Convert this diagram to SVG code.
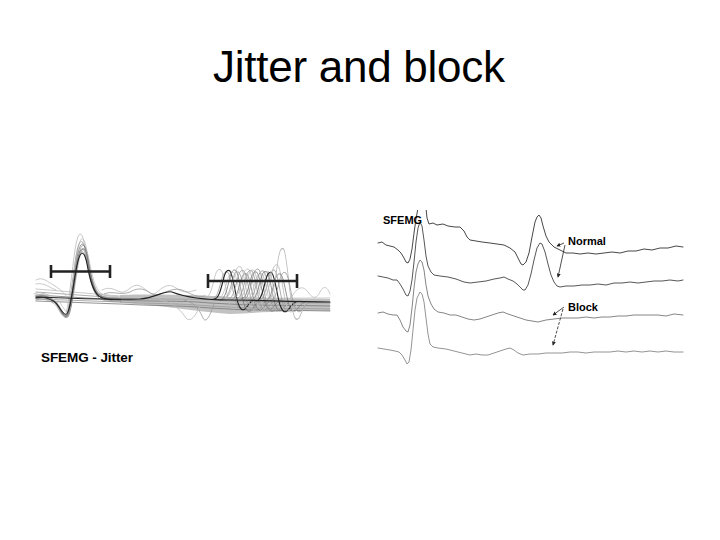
<svg xmlns="http://www.w3.org/2000/svg" xmlns:xlink="http://www.w3.org/1999/xlink" width="720" height="540" viewBox="0 0 720 540">
<style>
.t{font-family:"Liberation Sans",Arial,sans-serif;fill:#000}
.b{font-weight:bold}
.tr{fill:none;stroke-linejoin:round;stroke-linecap:round}
.g1{stroke:#999;stroke-width:0.8}
.g2{stroke:#777;stroke-width:0.8}
.g3{stroke:#bbb;stroke-width:0.8}
.dk{stroke:#222;stroke-width:1.1}
.bar{stroke:#222;stroke-width:2.6;fill:none}
.ar{stroke:#222;stroke-width:0.8;fill:none}
</style>
<defs>
<path id="fp" d="M0,0 C6,-3 12,0 18,4 C23,8 26,20 30,20 C34,20 37,-15 41,-40 C44,-58 48,-60 51,-42 C54,-22 57,-8 63,-2 C69,2 75,2 84,2"/>
<path id="wv" d="M0,0 C4,0 6,-6 9,-18 C11,-27 13,-30 16,-28 C19,-24 21,-6 24,4 C26,10 28,12 31,10 C34,7 36,2 40,1"/>
<marker id="ah" viewBox="0 0 6 6" refX="5" refY="3" markerWidth="5" markerHeight="5" orient="auto">
<path d="M0,0 L6,3 L0,6 Z" fill="#222"/>
</marker>
<clipPath id="rc"><rect x="375" y="210" width="315" height="160"/></clipPath>
</defs>
<rect width="720" height="540" fill="#fff"/>
<text class="t" x="213" y="82" font-size="44" textLength="292">Jitter and block</text>

<g id="jitter-panel">
<g id="band">
<path d="M120,295 C160,294 200,295 230,297 C270,298 300,299 330,299 L330,311 C300,310 270,312 230,314 C200,312 160,305 120,303 Z" fill="#999" opacity="0.6"/>
<path class="tr g1" d="M36,292 L120,298 C150,300 180,298 210,300 C250,302 290,303 330,303"/>
<path class="tr g2" d="M36,295 L120,300 C150,302 180,300 210,303 C250,306 290,305 330,306"/>
<path class="tr g3" d="M36,289 L120,296 C150,297 180,295 210,297 C250,299 290,298 330,298"/>
<path class="tr g1" d="M36,299 L120,302 C150,304 180,303 210,306 C250,309 290,308 330,309"/>
<path class="tr g2" d="M36,301 L120,304 C150,306 180,305 210,308 C250,311 290,310 330,311"/>
<path class="tr g3" d="M36,280 C42,276 48,282 55,286 C62,290 66,296 70,300"/>
<path class="tr g3" d="M36,284 C44,282 50,288 56,290"/>
<path class="tr g3" d="M102,290 C110,286 115,290 120,292 C128,294 132,282 140,286 C148,290 150,296 156,293 C162,288 168,282 176,288 C184,294 190,292 196,290"/>
<path class="tr g1" d="M104,294 C112,290 120,296 130,292 C140,286 146,290 152,294 C160,298 170,286 182,290 C190,293 196,298 205,296"/>
<path class="tr g3" d="M290,300 C296,288 302,284 308,292 C312,298 316,300 320,292 C324,284 328,288 330,294"/>
<path class="tr g1" d="M184,300 C192,302 198,306 203,318 C206,324 210,316 214,304"/>
<path class="tr g3" d="M160,300 C170,302 178,306 186,318 C190,323 196,316 200,306"/>
</g>
<g id="first-potential">
<use href="#fp" class="tr g3" transform="translate(36,296) scale(1,1.05)"/>
<use href="#fp" class="tr g1" transform="translate(37,297) scale(1,0.95)"/>
<use href="#fp" class="tr g2" transform="translate(36,298) scale(1,0.9)"/>
<use href="#fp" class="tr g1" transform="translate(35,296) scale(1,1)"/>
<use href="#fp" class="tr g3" transform="translate(38,295) scale(1,0.85)"/>
<use href="#fp" class="tr g2" transform="translate(37,299) scale(1,0.92)"/>
<use href="#fp" class="tr g1" transform="translate(36,300) scale(1,0.88)"/>
<use href="#fp" class="tr g3" transform="translate(34,294) scale(1,1.1)"/>
<use href="#fp" class="tr g2" transform="translate(36,297) scale(1,0.97)"/>
<use href="#fp" class="tr dk" transform="translate(36,298) scale(1,0.82)"/>
</g>
<g id="second-potential">
<use href="#wv" class="tr g3" transform="translate(205,298)"/>
<use href="#wv" class="tr g1" transform="translate(212,299) scale(1,0.95)"/>
<use href="#wv" class="tr dk" transform="translate(214,299) scale(1,1)"/>
<use href="#wv" class="tr g3" transform="translate(218,298) scale(1,0.9)"/>
<use href="#wv" class="tr g2" transform="translate(220,300) scale(1,1.05)"/>
<use href="#wv" class="tr g1" transform="translate(223,299) scale(1,0.95)"/>
<use href="#wv" class="tr g3" transform="translate(225,298) scale(1,1.1)"/>
<use href="#wv" class="tr g1" transform="translate(228,299) scale(1,1)"/>
<use href="#wv" class="tr g2" transform="translate(231,300) scale(1,0.92)"/>
<use href="#wv" class="tr g3" transform="translate(233,299) scale(1,1.05)"/>
<use href="#wv" class="tr g1" transform="translate(236,299) scale(1,1)"/>
<use href="#wv" class="tr g3" transform="translate(238,300) scale(1,1.05)"/>
<use href="#wv" class="tr g2" transform="translate(241,299) scale(1,0.95)"/>
<use href="#wv" class="tr g1" transform="translate(243,300) scale(1,1.08)"/>
<use href="#wv" class="tr g3" transform="translate(246,299) scale(1,0.9)"/>
<use href="#wv" class="tr g1" transform="translate(248,300) scale(1,1.02)"/>
<use href="#wv" class="tr g2" transform="translate(251,300) scale(1,1)"/>
<use href="#wv" class="tr g3" transform="translate(253,299) scale(1,0.97)"/>
<use href="#wv" class="tr dk" transform="translate(256,301) scale(1,1)"/>
<use href="#wv" class="tr g1" transform="translate(259,300) scale(1,1.05)"/>
<use href="#wv" class="tr g3" transform="translate(262,299) scale(1,1.2)"/>
<use href="#wv" class="tr g2" transform="translate(265,301) scale(1,0.95)"/>
<use href="#wv" class="tr g3" transform="translate(268,300) scale(1,1.8)"/>
<use href="#wv" class="tr g1" transform="translate(270,301) scale(1,1)"/>
</g>
<g id="dark-trace">
<path class="tr dk" d="M36,297 C60,298 100,300 140,299 C156,298 164,290 172,292 C182,296 200,300 230,300 C260,300 290,302 330,302"/>
</g>
<g id="bars">
<path class="bar" d="M51,271.5 H110 M51,265 V278 M110,265 V278"/>
<path class="bar" d="M208,281 H297 M208,274 V288 M297,274 V288"/>
</g>
<text class="t b" x="41" y="362" font-size="13.5" textLength="92">SFEMG - Jitter</text>
</g>

<g id="block-panel">
<g clip-path="url(#rc)">
<polyline class="tr" stroke="#333" stroke-width="0.9" points="378,243 382,242 386,245 390,246 394,247 398,250 401,253 404,258 406,262 408,263 410,259 412,249 414,233 416,219 418,208"/>
<polyline class="tr" stroke="#333" stroke-width="0.9" points="426,208 427,218 429,224 433,223 437,225 443,224 448,226 455,227 460,227 464,231 467,237 470,240 476,241 482,242 490,243 497,244 504,245 510,248 515,252 518,258 521,264 523,265 526,262 529,253 532,237 535,222 537,217 539,215 541,218 543,226 546,236 549,242 554,247 560,250 566,253 573,253 580,254 588,253 596,254 604,253 612,252 620,253 628,251 636,251 644,249 652,250 660,248 668,248 676,246 683,247"/>
<polyline class="tr" stroke="#444" stroke-width="0.9" points="378,276 383,277 388,278 393,280 397,280 400,284 403,289 406,295 408,296 410,291 412,280 414,262 416,242 418,228 420,222 422,226 424,240 426,256 428,266 431,272 434,275 440,276 448,277 456,279 464,282 470,283 478,282 486,281 494,279 500,278 504,277 508,279 513,281 517,284 520,287 523,290 525,290 528,285 531,274 534,260 537,248 540,243 542,244 545,252 548,264 551,275 554,282 557,286 560,287 566,286 574,286 582,285 590,285 598,284 606,285 614,283 622,283 630,282 638,283 646,282 654,281 662,281 670,280 678,281 683,280"/>
<polyline class="tr" stroke="#777" stroke-width="0.9" points="378,313 383,312 388,314 393,315 397,315 400,320 403,327 406,331 408,332 410,325 412,308 414,288 416,272 418,264 420,260 422,262 424,270 426,285 428,296 431,304 434,309 438,312 444,313 450,315 456,315 462,317 468,319 474,320 480,319 486,317 492,315 498,313 503,312 508,314 514,316 520,318 526,320 532,321 538,322 546,320 554,319 562,318 570,318 578,318 586,317 594,318 602,317 610,317 618,316 626,316 634,315 642,315 650,315 658,315 666,316 674,314 683,315"/>
<polyline class="tr" stroke="#888" stroke-width="0.9" points="378,348 384,349 390,350 395,351 399,352 402,355 405,360 407,364 409,362 411,350 413,330 415,310 417,298 420,292 422,294 424,302 426,318 428,334 430,344 433,347 438,348 446,349 454,351 462,353 470,355 476,354 482,355 488,355 494,353 500,351 506,349 510,348 514,350 518,353 523,355 530,354 538,354 546,353 554,353 562,353 570,352 578,352 586,353 594,352 602,352 610,352 618,351 626,352 634,351 642,352 650,351 658,352 666,351 674,352 683,352"/>
</g>
<g id="arrows">
<line class="ar" x1="564" y1="243" x2="557" y2="246" marker-end="url(#ah)"/>
<line class="ar" x1="565" y1="245" x2="558" y2="277" marker-end="url(#ah)"/>
<line class="ar" x1="564" y1="307" x2="553" y2="315" marker-end="url(#ah)"/>
<line class="ar" x1="563" y1="309" x2="553" y2="345" stroke-dasharray="3,1.5" marker-end="url(#ah)"/>
</g>
<text class="t b" x="383" y="224" font-size="11">SFEMG</text>
<text class="t b" x="568" y="245" font-size="11">Normal</text>
<text class="t b" x="568" y="311" font-size="11">Block</text>
</g>
</svg>
